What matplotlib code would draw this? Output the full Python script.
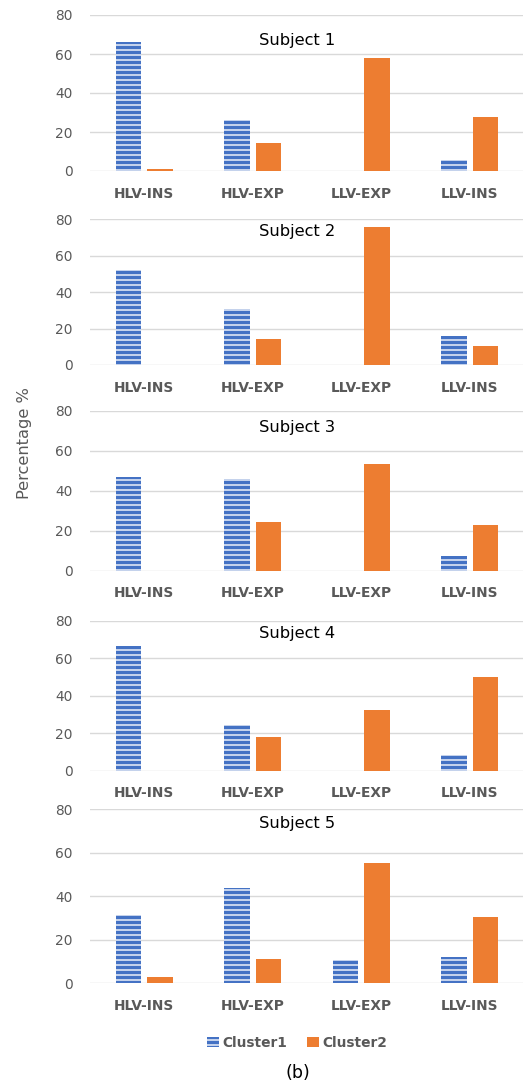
import matplotlib
matplotlib.use("Agg")
import matplotlib.pyplot as plt
import numpy as np

# data
categories = ["HLV-INS", "HLV-EXP", "LLV-EXP", "LLV-INS"]
subjects = ["Subject 1", "Subject 2", "Subject 3", "Subject 4", "Subject 5"]
cluster1 = [
    [66.3, 26.2, 0, 5.6],
    [52.2, 30.6, 0, 15.9],
    [47.0, 45.7, 0, 7.5],
    [66.7, 24.4, 0, 8.4],
    [31.4, 43.7, 10.7, 12.3],
]
cluster2 = [
    [1.0, 14.2, 57.8, 27.9],
    [0, 14.1, 75.6, 10.4],
    [0, 24.3, 53.3, 22.8],
    [0, 17.8, 32.2, 50.1],
    [2.8, 11.3, 55.2, 30.3],
]
yticks = [0, 20, 40, 60, 80]

BLUE = "#4472C4"
ORANGE = "#ED7D31"
GREY = "#595959"
GRID = "#D9D9D9"

W, H, DPI = 523, 1085, 90
plt.rcParams["font.family"] = ["DejaVu Sans"]
plt.rcParams["hatch.linewidth"] = 2.9

fig = plt.figure(figsize=(W / DPI, H / DPI), dpi=DPI)

# (top of 80 line, 0 line) in pixels, plus title centre y
panels = [(15, 171, 41), (219.3, 365, 231.7), (410.7, 570.7, 427.7),
          (620.7, 770.7, 633.3), (809.3, 983.3, 823.3)]
left_px, right_px = 90, 524

x = np.arange(len(categories))
bw = 0.235
off = 0.145

for i, (top, bot, ty) in enumerate(panels):
    ax = fig.add_axes([left_px / W, 1 - bot / H, (right_px - left_px) / W, (bot - top) / H])
    ax.bar(x - off, cluster1[i], bw, facecolor="white", edgecolor=BLUE,
           hatch="---", linewidth=0, label="Cluster1", zorder=3)
    ax.bar(x + off, cluster2[i], bw, color=ORANGE, linewidth=0,
           label="Cluster2", zorder=3)
    ax.set_xlim(-0.5, len(categories) - 0.5)
    ax.set_ylim(0, 80)
    ax.set_yticks(yticks)
    ax.set_xticks(x)
    ax.set_xticklabels(categories, fontweight="bold")
    ax.grid(axis="y", color=GRID, linewidth=1.1, zorder=0)
    for s in ax.spines.values():
        s.set_visible(False)
    ax.tick_params(axis="y", length=0, pad=14, labelsize=11, labelcolor=GREY)
    ax.tick_params(axis="x", length=0, pad=12.5, labelsize=11, labelcolor=GREY)
    fig.text(297 / W, 1 - ty / H, subjects[i], ha="center", va="center",
             fontsize=13, color="black")
    if i == 0:
        handles, labels = ax.get_legend_handles_labels()

fig.text(25 / W, 1 - 443 / H, "Percentage %", rotation=90, ha="center",
         va="center", fontsize=13, color=GREY)

leg = fig.legend(handles, labels, loc="center", bbox_to_anchor=(297 / W, 1 - 1042.7 / H),
                 ncol=2, frameon=False, handlelength=0.9, handleheight=0.75,
                 handletextpad=0.25, columnspacing=1.4,
                 prop={"size": 11, "weight": "bold"})
for t in leg.get_texts():
    t.set_color(GREY)

fig.text(298 / W, 1 - 1072.7 / H, "(b)", ha="center", va="center",
         fontsize=14, color="black")

fig.savefig("out.png", dpi=DPI)
